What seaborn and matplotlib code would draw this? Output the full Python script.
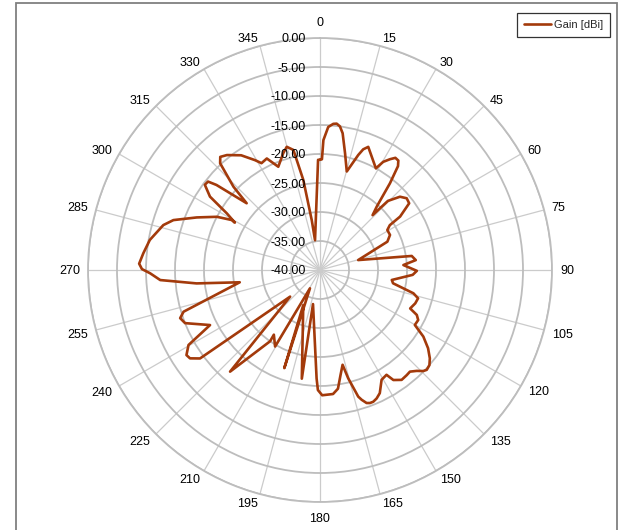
import numpy as np
import matplotlib
matplotlib.use("Agg")
import matplotlib.pyplot as plt
from matplotlib.patches import Rectangle
import seaborn as sns

# Measured radiation pattern: azimuth (deg, clockwise from north) and gain (dBi)
angle_deg = [0, 1, 1.5, 2.5, 3.3, 5.2, 6.5, 7.9, 9.4, 12.1, 15.2, 18.4, 19.7,
             21.4, 24.5, 28.8, 30.3, 32.3, 33.9, 35.6, 36.9, 38.9, 41.8, 43.8,
             44.5, 47.5, 50.4, 53.2, 56.3, 57.3, 59.3, 63.4, 67.2, 75.4, 81.3,
             84.1, 86.6, 90.5, 93.0, 97.9, 100.3, 104.0, 106.1, 109.3, 113.1,
             114.9, 117.0, 120.1, 122.8, 125.9, 128.8, 131.0, 133.1, 134.4,
             136.2, 138.5, 140.5, 143.4, 146.3, 147.6, 150.7, 154.1, 156.2,
             158.0, 159.4, 160.7, 162.2, 163.2, 165.4, 166.6, 169.0, 171.4,
             174.0, 179.0, 181.0, 181.8, 191.6, 189.5, 205.5, 200.0, 208.7,
             210.4, 215.5, 215.0, 221.5, 228.3, 233.6, 235.8, 237.5, 240.3,
             243.4, 248.5, 251.0, 253.0, 261.3, 263.8, 266.4, 268.9, 270.3,
             272.0, 275.4, 280.0, 286.0, 288.8, 293.1, 297.3, 299.5, 299.1,
             301.3, 303.7, 306.5, 308.3, 309.4, 312.3, 313.9, 316.9, 318.6,
             321.0, 325.5, 329.4, 331.3, 334.5, 338.0, 342.5, 344.9, 347.5,
             349.5, 350.6, 350.5, 359.0, 360.0]
gain_dbi = [-21.0, -20.9, -17.6, -16.4, -15.3, -14.7, -14.6, -15.0, -16.1, -19.4, -22.4, -19.1, -17.9,
            -17.2, -18.5, -20.0, -18.4, -17.4, -16.7, -16.8, -17.6, -20.8, -25.3, -26.9,
            -23.3, -21.3, -20.6, -20.8, -23.4, -25.7, -26.5, -26.5, -27.4, -33.2, -24.0,
            -23.4, -25.6, -23.3, -24.0, -27.5, -27.2, -23.4, -22.4, -22.6, -23.1,
            -21.6, -21.0, -21.1, -18.8, -17.0, -15.7, -15.0, -14.8, -15.1,
            -15.9, -16.6, -16.5, -16.4, -17.2, -18.6, -18.3, -16.4, -15.8,
            -15.5, -15.5, -15.7, -16.5, -17.2, -20.7, -23.2, -21.5, -19.3,
            -18.5, -18.4, -19.3, -21.3, -34.0, -21.0, -33.3, -22.0, -36.4,
            -24.7, -26.3, -25.0, -16.6, -33.1, -14.3, -12.9, -12.7, -13.9,
            -18.8, -15.0, -14.5, -15.4, -26.0, -18.6, -12.4, -10.7, -9.3,
            -8.8, -9.4, -10.2, -11.9, -13.3, -16.9, -20.0, -22.5, -23.2,
            -21.2, -17.2, -15.3, -15.4, -16.9, -22.9, -19.3, -14.8, -14.0,
            -14.5, -16.0, -18.0, -19.0, -18.7, -20.8, -18.9, -18.0, -18.8,
            -24.2, -31.3, -34.8, -21.0, -21.0]
assert len(angle_deg) == len(gain_dbi)

theta_ticks = list(range(0, 360, 15))
r_ticks = [0, -5, -10, -15, -20, -25, -30, -35, -40]
r_tick_labels = ["0.00", "-5.00", "-10.00", "-15.00", "-20.00", "-25.00",
                 "-30.00", "-35.00", "-40.00"]
series_name = "Gain [dBi]"

sns.set_theme(style="white")
plt.rcParams["font.family"] = ["Liberation Sans", "DejaVu Sans"]

W, H = 621, 530
fig = plt.figure(figsize=(W / 100, H / 100), dpi=100)
fig.patch.set_facecolor("white")
px = 72 / 100  # points per pixel

cx, cy, R = 320, 270, 232
ax = fig.add_axes([(cx - R) / W, (H - cy - R) / H, 2 * R / W, 2 * R / H],
                  projection="polar")
ax.set_theta_zero_location("N")
ax.set_theta_direction(-1)
ax.set_ylim(-40, 0)
ax.set_facecolor("white")

ring_color = "#bdbdbd"
spoke_color = "#cbcbcb"
ax.set_yticks([t for t in r_ticks if t > -40])
ax.set_yticklabels([])
ax.set_xticks(np.deg2rad(theta_ticks))
ax.set_xticklabels([])
ax.yaxis.grid(True, color=ring_color, linewidth=1.3)
ax.xaxis.grid(True, color=spoke_color, linewidth=0.9)
ax.spines["polar"].set_color(ring_color)
ax.spines["polar"].set_linewidth(1.3)

line_color = "#a33a0b"
sns.lineplot(x=np.deg2rad(angle_deg), y=gain_dbi, sort=False, estimator=None,
             ax=ax, color=line_color, linewidth=1.9, label=series_name)
ax.set_xlabel("")
ax.set_ylabel("")
if ax.get_legend() is not None:
    ax.get_legend().remove()

# angle labels sit just outside the end of each spoke
gap = 8
baseline_nudge = -1.5  # digits sit a little low inside their box
for a in theta_ticks:
    t = np.deg2rad(a)
    s, c = np.sin(t), np.cos(t)
    on_vertical = abs(s) < 1e-6
    ha = "center" if on_vertical else ("left" if s > 0 else "right")
    lift = 8 if on_vertical else (0 if abs(c) < 1e-6 else 1)
    dx = gap * s
    dy = gap * c + (lift if c > 0 else -lift) + baseline_nudge
    ax.annotate(str(a), xy=(t, 0), xytext=(dx * px, dy * px),
                textcoords="offset points", ha=ha, va="center",
                fontsize=9, color="black", annotation_clip=False)

# radial scale labels along the 0 degree spoke
for v, lbl in zip(r_ticks, r_tick_labels):
    ax.annotate(lbl, xy=(0, v), xytext=(-10, baseline_nudge * px),
                textcoords="offset points",
                ha="right", va="center", fontsize=9, color="black",
                annotation_clip=False)

handles, labels = ax.get_legend_handles_labels()
leg = fig.legend(handles, labels, loc="upper right",
                 bbox_to_anchor=(610 / W, 1 - 13 / H),
                 bbox_transform=fig.transFigure, borderaxespad=0,
                 fontsize=8, frameon=True, fancybox=False, borderpad=0.62,
                 handlelength=2.4, handletextpad=0.3)
leg.get_frame().set_edgecolor("black")
leg.get_frame().set_linewidth(0.9)

# chart area frame
fig.patches.append(Rectangle((16 / W, -0.05), (617 - 16) / W, 1.05 - 2.5 / H,
                             transform=fig.transFigure, fill=False,
                             edgecolor="#808080", linewidth=1.3))

fig.savefig("out.png", dpi=100, facecolor="white")
